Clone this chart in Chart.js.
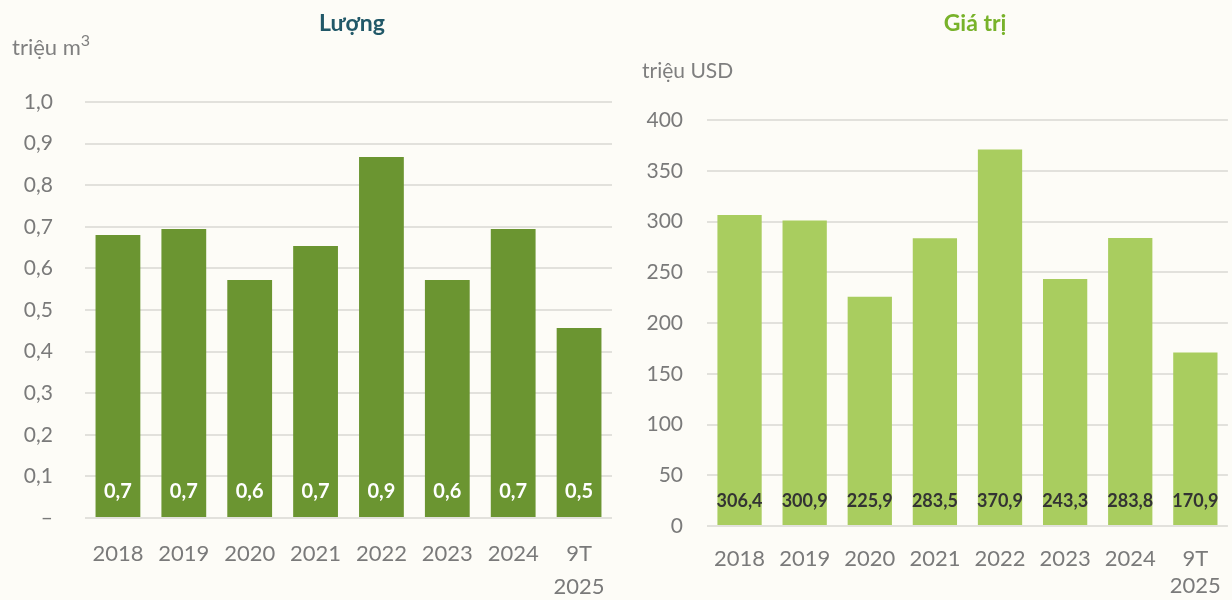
<!DOCTYPE html>
<html>
<head>
<meta charset="utf-8">
<script src="https://cdn.jsdelivr.net/npm/chart.js@4/dist/chart.umd.min.js"></script>
<style>
  body { margin: 0; background: #fdfcf7; width: 1232px; height: 600px; overflow: hidden; position: relative; font-family: Lato, sans-serif; }
  canvas { position: absolute; top: 0; }
  #c1 { left: 0; }
  #c2 { left: 616px; }
  .txt { position: absolute; white-space: nowrap; }
  .title { top: 8px; font-size: 23px; font-weight: bold; transform: translateX(-50%); }
  .unit { color: #7f7f7f; font-size: 22px; }
  .unit sup { font-size: 16px; vertical-align: 9px; line-height: 0; }
</style>
</head>
<body>
<canvas id="c1" width="616" height="600"></canvas>
<canvas id="c2" width="616" height="600"></canvas>
<div class="txt title" style="left:352px; color:#215868;">Lượng</div>
<div class="txt title" style="left:975px; color:#78b22a;">Giá trị</div>
<div class="txt unit" style="left:12px; top:33px;">triệu m<sup>3</sup></div>
<div class="txt unit" style="left:642px; top:57px; font-size:21px;">triệu USD</div>
<script>
// categories and series
var years = ['2018', '2019', '2020', '2021', '2022', '2023', '2024', ['9T', '2025']];
var volume = [0.68, 0.695, 0.572, 0.654, 0.868, 0.572, 0.695, 0.457];   // triệu m3
var value = [306.4, 300.9, 225.9, 283.5, 370.9, 243.3, 283.8, 170.9];   // triệu USD

var grey = '#7a7a7a';
var gridColor = '#e2e1dc';
var fontName = 'Lato, sans-serif';

function comma(v, d) {
	return v.toFixed(d).replace('.', ',');
}

// writes the value inside each bar, just above the base line
var barLabels = {
	id: 'barLabels',
	afterDatasetsDraw: function(chart, args, opts) {
		var ctx = chart.ctx;
		var meta = chart.getDatasetMeta(0);
		var data = chart.data.datasets[0].data;
		ctx.save();
		ctx.fillStyle = opts.color;
		ctx.font = opts.font;
		ctx.textAlign = 'center';
		ctx.textBaseline = 'middle';
		meta.data.forEach(function(bar, i) {
			ctx.fillText(comma(data[i], 1), bar.x, bar.base - opts.offset);
		});
		ctx.restore();
	}
};

function makeChart(id, data, color, yOpts, pad, yWidth, xHeight, lineH, label) {
	return new Chart(document.getElementById(id), {
		type: 'bar',
		data: {
			labels: years,
			datasets: [{
				data: data,
				backgroundColor: color,
				barPercentage: 0.68,
				categoryPercentage: 1
			}]
		},
		options: {
			responsive: false,
			animation: false,
			layout: { padding: pad },
			plugins: {
				legend: { display: false },
				tooltip: { enabled: false },
				barLabels: label
			},
			scales: {
				x: {
					afterFit: function(scale) { scale.height = xHeight; },
					grid: { display: false },
					border: { display: false },
					ticks: { color: grey, font: { family: fontName, size: 22, lineHeight: lineH }, padding: 11, maxRotation: 0, autoSkip: false }
				},
				y: {
					min: 0,
					max: yOpts.max,
					afterFit: function(scale) { scale.width = yWidth; },
					grid: { color: gridColor, lineWidth: 2, drawTicks: false },
					border: { display: false },
					ticks: {
						stepSize: yOpts.step,
						color: grey,
						padding: yOpts.padding,
						font: { family: fontName, size: 21 },
						callback: yOpts.fmt
					}
				}
			}
		},
		plugins: [barLabels]
	});
}

makeChart('c1', volume, '#6b9531',
	{ max: 1.0, step: 0.1, padding: 32, fmt: function(v) { return v === 0 ? '–' : comma(v, 1); } },
	{ top: 102, right: 4, bottom: 0, left: 0 }, 85, 82, 1.5,
	{ color: '#ffffff', font: 'bold 20px ' + fontName, offset: 25 });

makeChart('c2', value, '#a9cd5f',
	{ max: 400, step: 50, padding: 24, fmt: function(v) { return String(v); } },
	{ top: 120, right: 2, bottom: 0, left: 0 }, 91, 74, 1.25,
	{ color: '#333333', font: 'bold 18px ' + fontName, offset: 24 });
</script>
</body>
</html>
